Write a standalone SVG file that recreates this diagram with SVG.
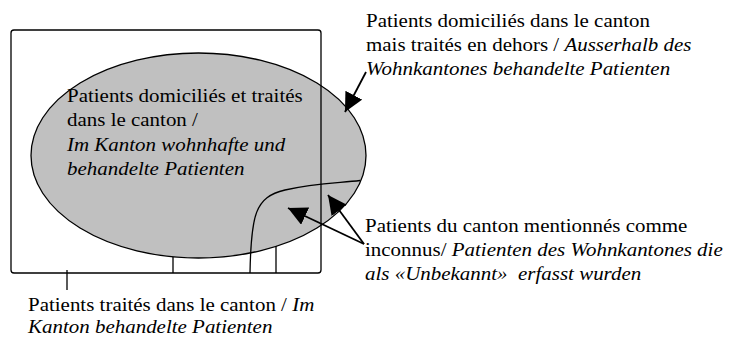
<svg xmlns="http://www.w3.org/2000/svg" width="733" height="338" viewBox="0 0 733 338">
  <style>
    .ln { fill: none; stroke: #000; stroke-width: 1.3; }
    .arr { fill: none; stroke: #000; stroke-width: 1.8; marker-end: url(#ah); }
    .t { font-family: "Liberation Serif", "Times New Roman", serif; font-size: 19.5px; fill: #000; }
    .i { font-style: italic; }
  </style>
  <defs>
    <marker id="ah" markerUnits="userSpaceOnUse" markerWidth="20" markerHeight="20" refX="19" refY="9.5" orient="auto" viewBox="0 0 20 20">
      <path d="M0,0 L19,9.5 L0,19 z" fill="#000"/>
    </marker>
  </defs>

  <rect width="733" height="338" fill="#fff"/>

  <g id="domiciled-ellipse">
    <ellipse cx="198.5" cy="155.5" rx="167.5" ry="102.5" fill="#c0c0c0" stroke="#000" stroke-width="1.3"/>
  </g>

  <g id="treated-frame">
    <rect x="11" y="30" width="310" height="243" rx="3" class="ln"/>
    <line x1="173" y1="257" x2="173" y2="273" class="ln"/>
    <line x1="276" y1="246" x2="276" y2="273" class="ln"/>
  </g>

  <g id="unknown-region">
    <path d="M250,273 C251,215 255,197 285,190 S340,183 360,180.5" class="ln"/>
  </g>

  <g id="connectors">
    <line x1="366" y1="72" x2="345" y2="112" class="arr"/>
    <line x1="364" y1="244" x2="288" y2="208" class="arr"/>
    <line x1="364" y1="244" x2="328" y2="195" class="arr"/>
    <line x1="67" y1="270" x2="67" y2="290" class="ln"/>
  </g>

  <g id="label-outside" transform="translate(366,0) scale(1.075,1)">
    <text class="t" x="0" y="27.5">Patients domiciliés dans le canton</text>
    <text class="t" x="0" y="51.5">mais traités en dehors / <tspan class="i">Ausserhalb des</tspan></text>
    <text class="t i" x="0" y="75.5">Wohnkantones behandelte Patienten</text>
  </g>

  <g id="label-inside" transform="translate(67,0) scale(1.075,1)">
    <text class="t" x="0" y="102.5">Patients domiciliés et traités</text>
    <text class="t" x="0" y="126.5">dans le canton /</text>
    <text class="t i" x="0" y="151">Im Kanton wohnhafte und</text>
    <text class="t i" x="0" y="175">behandelte Patienten</text>
  </g>

  <g id="label-unknown" transform="translate(365,0) scale(1.075,1)">
    <text class="t" x="0" y="232.5">Patients du canton mentionnés comme</text>
    <text class="t" x="0" y="256.5">inconnus/ <tspan class="i">Patienten des Wohnkantones die</tspan></text>
    <text class="t i" x="0" y="280.5" xml:space="preserve">als «Unbekannt»  erfasst wurden</text>
  </g>

  <g id="label-treated" transform="translate(28,0) scale(1.075,1)">
    <text class="t" x="0" y="311">Patients traités dans le canton / <tspan class="i">Im</tspan></text>
    <text class="t i" x="0" y="333">Kanton behandelte Patienten</text>
  </g>
</svg>
